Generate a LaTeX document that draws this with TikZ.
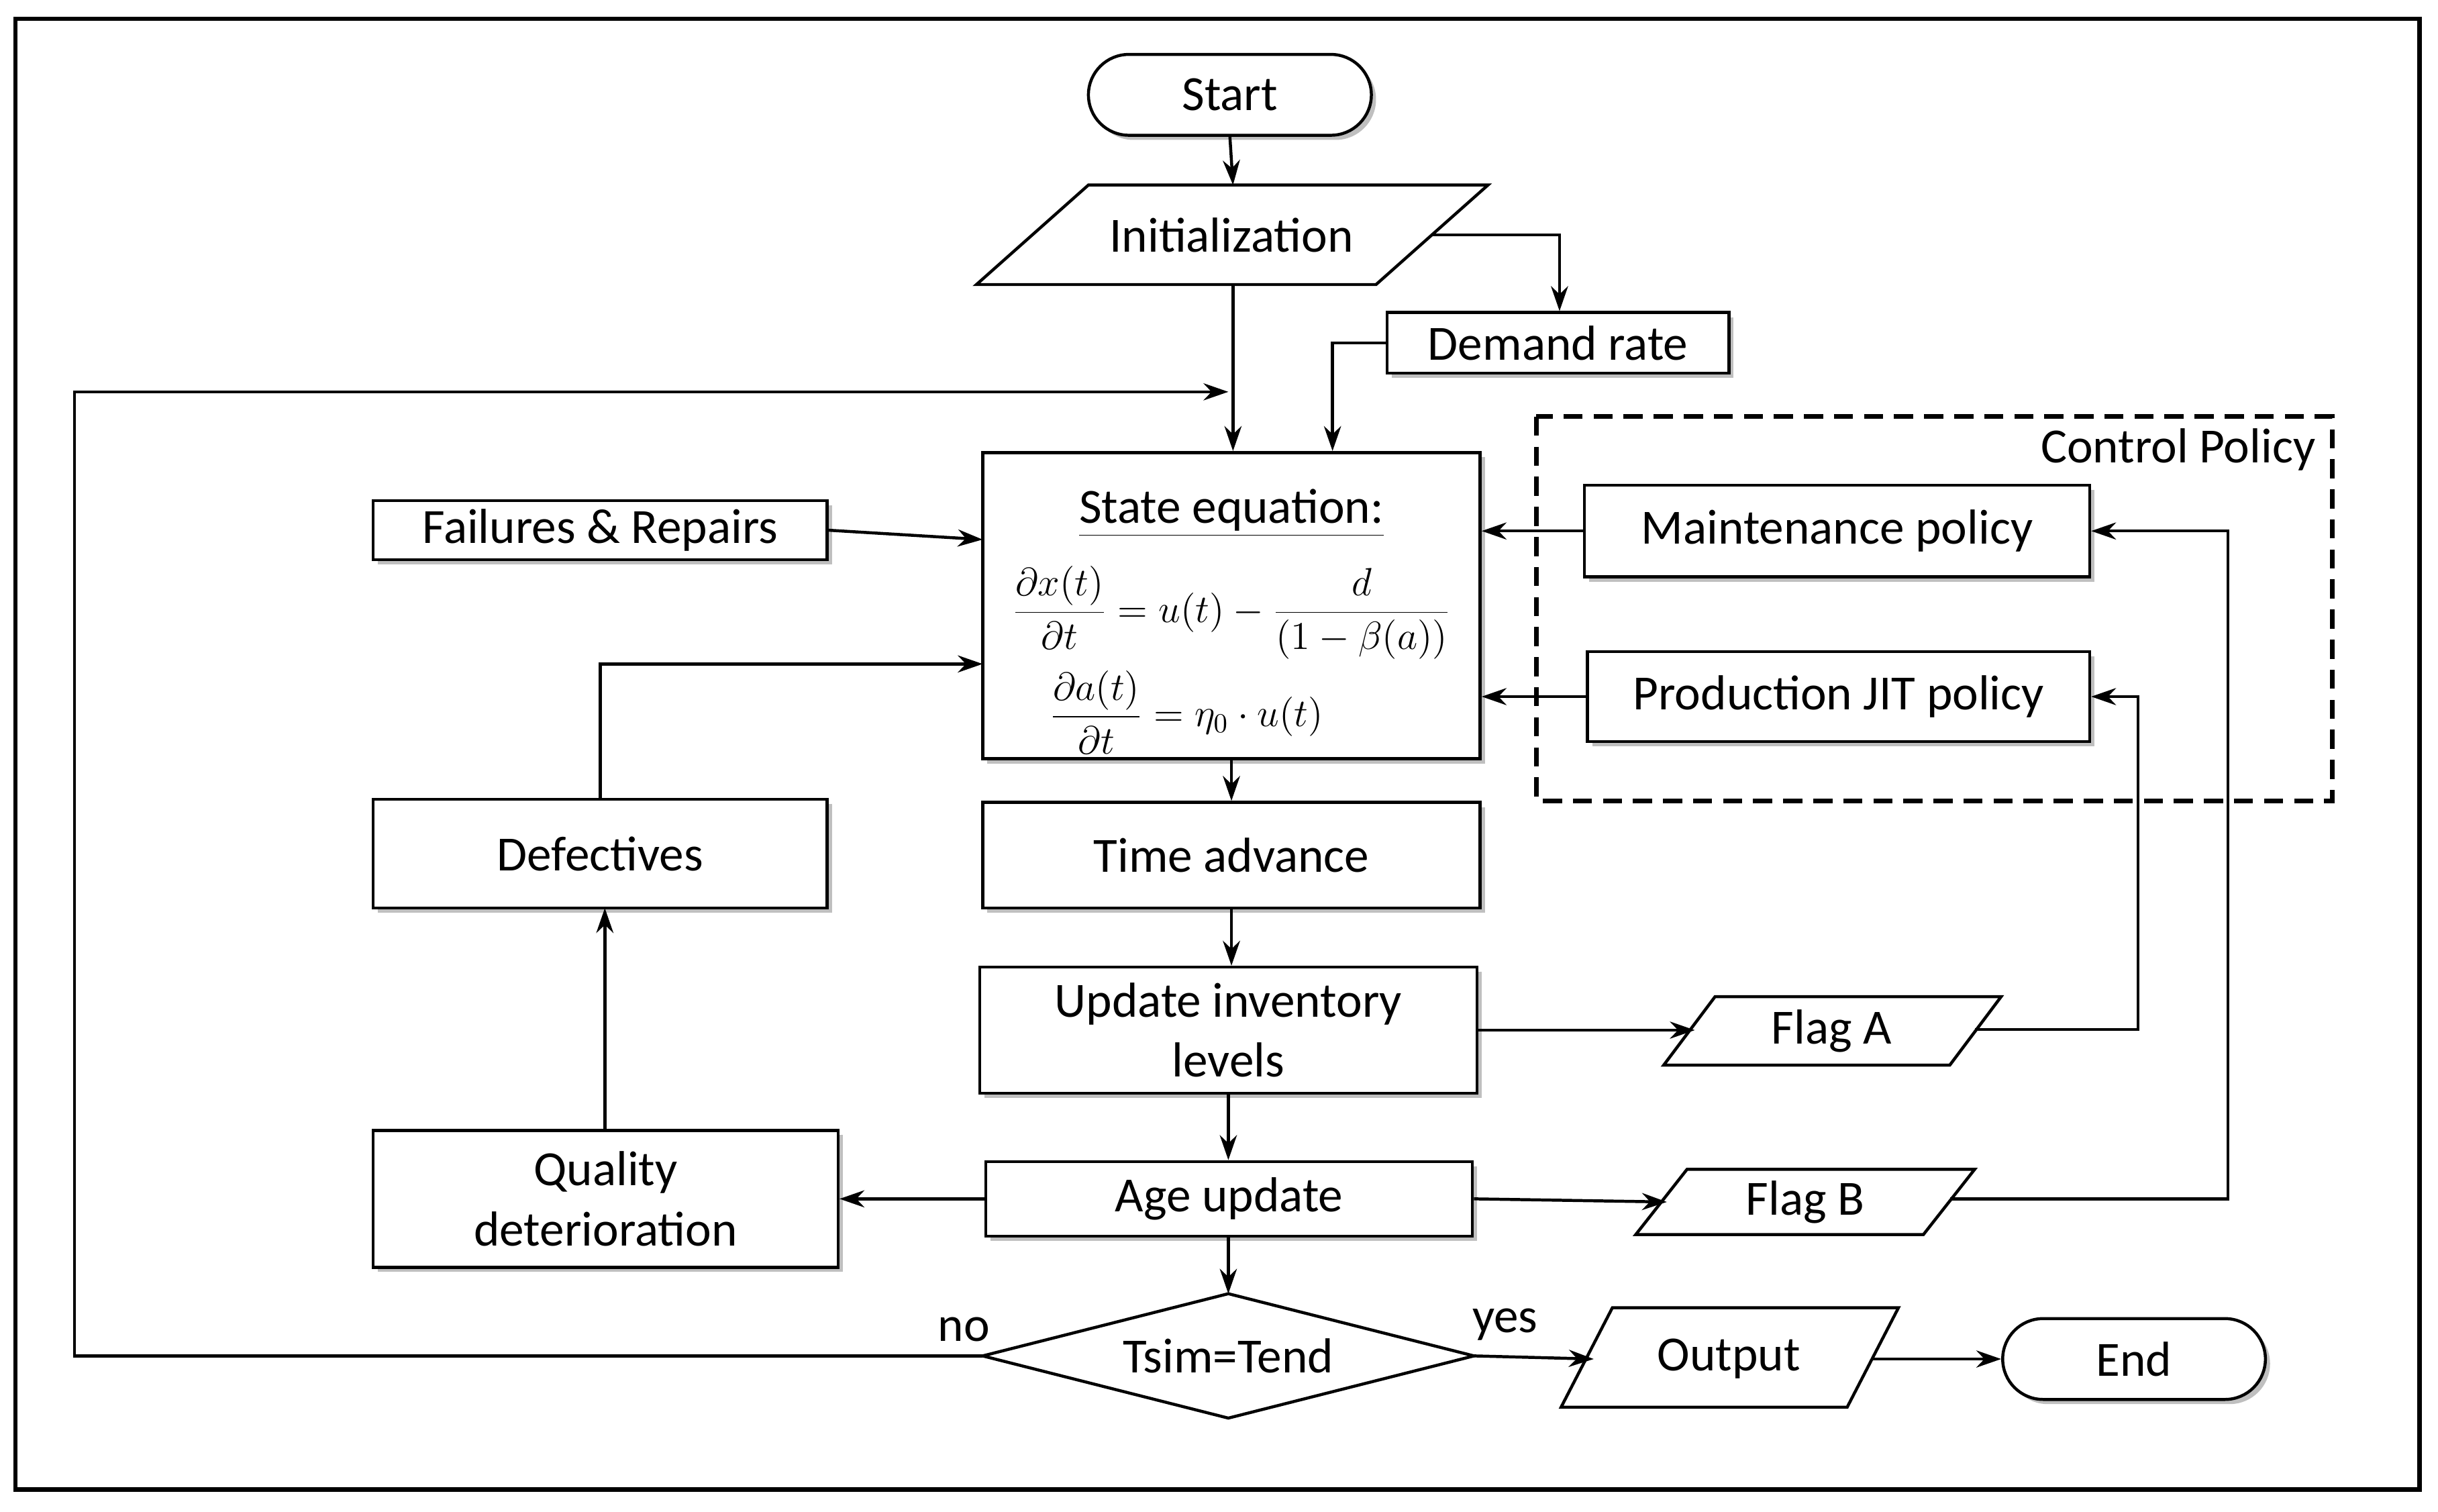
\documentclass[tikz,border=0pt]{standalone}
\usepackage{fontspec}
\setmainfont{Carlito}
\usetikzlibrary{arrows.meta,shadows,calc}
\begin{document}
\begin{tikzpicture}[x=0.02cm,y=-0.02cm,line width=1.1pt,
 box/.style={draw,fill=white,inner sep=0pt,align=center,font=\fontsize{18}{22}\selectfont,drop shadow={shadow xshift=0.06cm,shadow yshift=-0.06cm,opacity=0.5}},
 lab/.style={font=\fontsize{18}{22}\selectfont},
 eq/.style={font=\fontsize{14.5}{17}\selectfont},
 arr/.style={-{Stealth[length=0.32cm,width=0.22cm]}}]
\useasboundingbox (0,0) rectangle (1568,972);
\draw[line width=1.6pt] (10,12) rectangle (1556,958);
% Start
\node[box,rounded corners=0.52cm,minimum width=3.64cm,minimum height=1.04cm] (start) at (791,61) {Start};
% Initialization
\draw[fill=white] (628,183) -- (700,119) -- (957,119) -- (885,183) -- cycle;
\node[lab] (init) at (792,151) {Initialization};
\coordinate (initR) at (920,151);
\coordinate (initB) at (793,183);
\coordinate (initT) at (793,119);
\node[box,minimum width=4.4cm,minimum height=0.78cm] (demand) at (1002,220.5) {Demand rate};
\node[box,minimum width=6.4cm,minimum height=3.94cm] (state) at (792,389.5) {};
\node[lab] at (792,330) {\underline{State equation:}};
\node[eq] at (792,394) {$\displaystyle\frac{\partial x(t)}{\partial t}=u(t)-\frac{d}{\bigl(1-\beta(a)\bigr)}$};
\node[eq] at (763,458) {$\displaystyle\frac{\partial a(t)}{\partial t}=\eta_0\cdot u(t)$};
\node[box,minimum width=5.84cm,minimum height=0.76cm] (fail) at (386,341) {Failures \& Repairs};
\draw[dash pattern=on 7pt off 4pt,line width=1.7pt] (988,268) rectangle (1500,515);
\node[lab,anchor=east] (cp) at (1496,289) {Control Policy};
\node[box,minimum width=6.5cm,minimum height=1.18cm] (maint) at (1181.5,341.5) {Maintenance policy};
\node[box,minimum width=6.46cm,minimum height=1.16cm] (prod) at (1182.5,448) {Production JIT policy};
\node[box,minimum width=5.84cm,minimum height=1.4cm] (defect) at (386,549) {Defectives};
\node[box,minimum width=6.4cm,minimum height=1.36cm] (time) at (792,550) {Time advance};
\node[box,minimum width=6.4cm,minimum height=1.62cm] (update) at (790,662.5) {Update inventory\\levels};
\node[box,minimum width=6.26cm,minimum height=0.96cm] (age) at (790.5,771) {Age update};
\node[box,minimum width=5.98cm,minimum height=1.76cm] (quality) at (389.5,771) {Quality\\deterioration};
\node[box,rounded corners=0.52cm,minimum width=3.38cm,minimum height=1.04cm] (end) at (1372.5,874) {End};
% Flag A
\draw[fill=white] (1070,685) -- (1103,641) -- (1287,641) -- (1254,685) -- cycle;
\node[lab] (flagA) at (1178,663) {Flag A};
% Flag B
\draw[fill=white] (1052,794) -- (1085,752) -- (1270,752) -- (1237,794) -- cycle;
\node[lab] (flagB) at (1161,773) {Flag B};
% Output
\draw[fill=white] (1004,905) -- (1037,841) -- (1221,841) -- (1188,905) -- cycle;
\node[lab] (out) at (1112,874) {Output};
% Diamond
\draw[fill=white] (632,872) -- (790,832) -- (948,872) -- (790,912) -- cycle;
\node[lab] (dec) at (790,872) {Tsim=Tend};
\node[lab] at (620,855) {no};
\node[lab] at (968,852) {yes};
% connectors
\draw[arr] (start.south) -- (initT);
\draw[arr] (initR) -- (1003,151) -- (demand.north -| 1003,0);
\draw[arr] (initB) -- (state.north -| initB);
\draw[arr] (demand.west) -- (857,220.5) -- (state.north -| 857,0);
\draw[arr] (632,872) -- (48,872) -- (48,252) -- (790,252);
\draw[arr] (fail.east) -- (632,347);
\draw[arr] (maint.west) -- (state.east |- maint.west);
\draw[arr] (prod.west) -- (state.east |- prod.west);
\draw[arr] (defect.north) -- (386,427) -- (632,427);
\draw[arr] (state.south) -- (time.north);
\draw[arr] (time.south) -- (update.north -| time.south);
\draw[arr] (update.south) -- (age.north -| update.south);
\draw[arr] (update.east) -- (1090,662.5);
\draw[arr] (1270,662) -- (1375,662) -- (1375,448) -- (prod.east);
\draw[arr] (age.west) -- (quality.east);
\draw[arr] (389,727) -- (389,584);
\draw[arr] (age.east) -- (1072,773);
\draw[arr] (1254,771) -- (1433,771) -- (1433,341.5) -- (maint.east);
\draw[arr] (age.south -| 790,0) -- (790,832);
\draw[arr] (948,872) -- (1025,874);
\draw[arr] (1204,874) -- (end.west);
\end{tikzpicture}
\end{document}
